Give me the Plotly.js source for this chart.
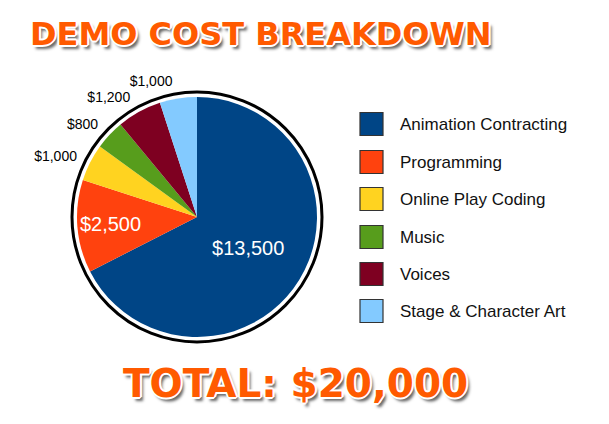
<!DOCTYPE html>
<html><head><meta charset="utf-8">
<script src="https://cdn.plot.ly/plotly-3.0.1.min.js"></script>
<style>html,body{margin:0;padding:0;background:#fff}#chart{width:609px;height:424px}</style>
</head><body><div id="chart"></div>
<script>
const categories = ["Animation Contracting","Programming","Online Play Coding","Music","Voices","Stage & Character Art"];
const costs = [13500, 2500, 1000, 800, 1200, 1000];
const sliceColors = ["#004586","#ff420e","#ffd320","#579d1c","#7e0021","#83caff"];
const insideLabel = [true, true, false, false, false, false];
const titleText = "DEMO COST BREAKDOWN";
const totalText = "TOTAL: $" + costs.reduce((a,b)=>a+b,0).toLocaleString("en-US");

const W = 609, H = 424;
const cx = 197, cy = 217, r = 120, rLab = 130;
const px = x => x / W, py = y => 1 - y / H;
const money = v => "$" + v.toLocaleString("en-US");

const fancyShadow = "1px 1px 0 #fff,-1px -1px 0 #fff,1px -1px 0 #fff,-1px 1px 0 #fff,2px 0 0 #fff,-2px 0 0 #fff,0 2px 0 #fff,0 -2px 0 #fff,3px 4px 3px #666";

const common = {
  type: "pie", labels: categories, values: costs,
  textinfo: "text", sort: false, direction: "clockwise", rotation: 0,
  showlegend: false, hoverinfo: "none"
};
const mainPie = Object.assign({}, common, {
  text: costs.map(money),
  textposition: insideLabel.map(b => b ? "inside" : "none"),
  insidetextorientation: "horizontal",
  insidetextfont: {family: "Liberation Sans, Arial", size: 20, color: "#fff"},
  marker: {colors: sliceColors, line: {width: 0}},
  domain: {x: [px(cx - r), px(cx + r)], y: [py(cy + r), py(cy - r)]}
});
const labelPie = Object.assign({}, common, {
  text: costs.map(money),
  textposition: insideLabel.map(b => b ? "none" : "outside"),
  outsidetextfont: {family: "Liberation Sans, Arial", size: 14, color: "#000"},
  marker: {colors: costs.map(() => "rgba(0,0,0,0)"), line: {width: 0}},
  domain: {x: [px(cx - rLab), px(cx + rLab)], y: [py(cy + rLab), py(cy - rLab)]}
});

const shapes = [{
  type: "circle", xref: "paper", yref: "paper",
  x0: px(cx - 125), x1: px(cx + 125), y0: py(cy + 125), y1: py(cy - 125),
  line: {color: "#000", width: 3}, fillcolor: "rgba(0,0,0,0)"
}];
const annotations = [
  {text: titleText, x: px(261), y: py(34), xref: "paper", yref: "paper", showarrow: false,
   xanchor: "center", yanchor: "middle",
   font: {family: "DejaVu Sans", weight: "bold", size: 32, color: "#ff5a00", shadow: fancyShadow}},
  {text: totalText, x: px(295), y: py(383), xref: "paper", yref: "paper", showarrow: false,
   xanchor: "center", yanchor: "middle",
   font: {family: "DejaVu Sans", weight: "bold", size: 39, color: "#ff5a00", shadow: fancyShadow}}
];
const rowY = [124, 162, 199, 237, 274, 311];
categories.forEach((c, i) => {
  shapes.push({type: "rect", xref: "paper", yref: "paper",
    x0: px(360), x1: px(383), y0: py(rowY[i] + 11.5), y1: py(rowY[i] - 11.5),
    fillcolor: sliceColors[i], line: {color: "#333", width: 1.2}});
  annotations.push({text: c, x: px(398), y: py(rowY[i]), xref: "paper", yref: "paper",
    showarrow: false, xanchor: "left", yanchor: "middle",
    font: {family: "Liberation Sans, Arial", size: 17, color: "#111"}});
});

Plotly.newPlot("chart", [mainPie, labelPie], {
  width: W, height: H,
  margin: {l: 0, r: 0, t: 0, b: 0},
  paper_bgcolor: "#fff",
  shapes: shapes,
  annotations: annotations,
  showlegend: false
}, {displayModeBar: false, staticPlot: true});
</script></body></html>
